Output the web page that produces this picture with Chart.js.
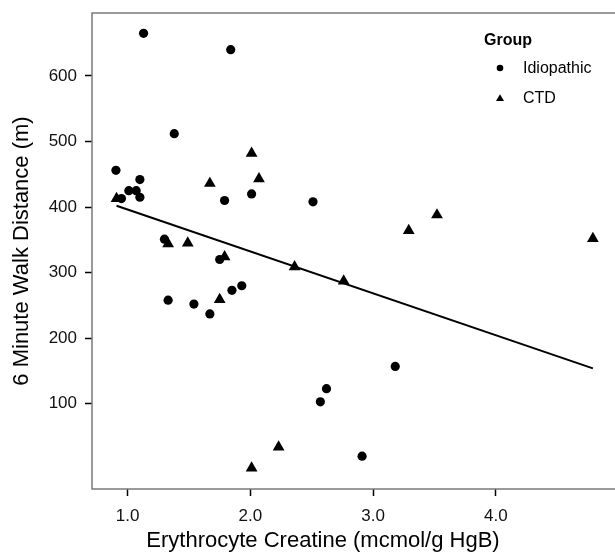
<!DOCTYPE html>
<html>
<head>
<meta charset="utf-8">
<title>6 Minute Walk Distance vs Erythrocyte Creatine</title>
<script src="https://cdn.jsdelivr.net/npm/chart.js@4.4.0/dist/chart.umd.min.js"></script>
<style>
  body { margin: 0; background: #fff; }
  canvas { display: block; }
</style>
</head>
<body>
<canvas id="walkChart" width="615" height="553"></canvas>
<script>
// Idiopathic group (circles)
const idioX = [1.13, 1.84, 1.38, 0.905, 1.10, 1.01, 1.07, 1.10, 0.95, 2.01, 1.79, 2.51, 1.30, 1.75, 1.33, 1.54, 1.67, 1.85, 1.93, 2.62, 2.57, 3.18, 2.91]
const idioY = [665, 640, 512, 456, 442, 425, 425, 415, 413, 420, 410, 408, 351, 320, 258, 252, 237, 273, 280, 123, 103, 157, 20]

// CTD group (triangles)
const ctdX = [2.01, 2.07, 1.67, 0.91, 1.33, 1.49, 1.79, 2.36, 2.76, 1.75, 2.23, 2.01, 3.52, 3.29, 4.79]
const ctdY = [482, 443, 436, 413, 344, 345, 324, 309, 287, 259, 34, 2, 388, 364, 352]

// fitted line, read at both ends
const fitX = [0.91, 4.79]
const fitY = [402, 154]

const xTicks = [1, 2, 3, 4]
const yTicks = [100, 200, 300, 400, 500, 600]
const groupNames = ["Idiopathic", "CTD"]
const legendTitle = "Group"
const xTitle = "Erythrocyte Creatine (mcmol/g HgB)"
const yTitle = "6 Minute Walk Distance (m)"

const family = "'Liberation Sans', Arial, Helvetica, sans-serif"
const toPoints = (xs, ys) => xs.map((x, i) => ({ x: x, y: ys[i] }))

// panel frame (right side is cut off by the picture edge), x title and the "Group" legend
const extras = {
    id: "extras",
    beforeDatasetsDraw(chart) {
        const { ctx, chartArea: a } = chart
        ctx.save()
        ctx.strokeStyle = "#7a7a7a"
        ctx.lineWidth = 1.5
        ctx.beginPath()
        ctx.moveTo(a.right + 2, a.top)
        ctx.lineTo(a.left, a.top)
        ctx.lineTo(a.left, a.bottom)
        ctx.lineTo(a.right + 2, a.bottom)
        ctx.stroke()
        ctx.restore()
    },
    afterDraw(chart) {
        const { ctx, chartArea: a } = chart
        ctx.save()
        ctx.fillStyle = "#000"
        ctx.font = "22px " + family
        ctx.textAlign = "center"
        ctx.textBaseline = "alphabetic"
        ctx.fillText(xTitle, a.left + 231, chart.height - 6)

        const lx = a.right - 131
        ctx.textAlign = "left"
        ctx.font = "bold 16px " + family
        ctx.fillText(legendTitle, lx, a.top + 32)
        ctx.font = "16px " + family
        ctx.textBaseline = "middle"
        groupNames.forEach((name, i) => {
            const cy = a.top + 55 + i * 30
            const cx = lx + 16
            ctx.beginPath()
            if (i === 0) {
                ctx.arc(cx, cy, 3.3, 0, Math.PI * 2)
            } else {
                ctx.moveTo(cx, cy - 3.8)
                ctx.lineTo(cx - 4, cy + 3)
                ctx.lineTo(cx + 4, cy + 3)
                ctx.closePath()
            }
            ctx.fill()
            ctx.fillText(name, lx + 39, cy + 1)
        })
        ctx.restore()
    }
}

new Chart(document.getElementById("walkChart"), {
    type: "scatter",
    data: {
        datasets: [
            {
                label: groupNames[0],
                data: toPoints(idioX, idioY),
                pointStyle: "circle",
                pointRadius: 4.6,
                backgroundColor: "#000",
                borderWidth: 0,
                order: 1,
            },
            {
                label: groupNames[1],
                data: toPoints(ctdX, ctdY),
                pointStyle: "triangle",
                pointRadius: 6.8,
                backgroundColor: "#000",
                borderWidth: 0,
                order: 1,
            },
            {
                type: "line",
                label: "fit",
                data: toPoints(fitX, fitY),
                borderColor: "#000",
                borderWidth: 2,
                pointRadius: 0,
                fill: false,
                order: 2,
            },
        ],
    },
    options: {
        responsive: false,
        animation: false,
        layout: { autoPadding: false, padding: { top: 13, right: 0, left: 0, bottom: 0 } },
        plugins: {
            legend: { display: false },
            tooltip: { enabled: false },
        },
        scales: {
            x: {
                type: "linear",
                min: 0.71,
                max: 4.97,
                afterBuildTicks: s => { s.ticks = xTicks.map(v => ({ value: v })) },
                afterFit: s => {
                    s.height = 64
                    s.paddingLeft = 0
                    s.paddingRight = 0
                },
                ticks: {
                    callback: v => v.toFixed(1),
                    font: { family: family, size: 17 },
                    color: "#111",
                    padding: 10,
                    maxRotation: 0,
                },
                grid: { drawOnChartArea: false, drawTicks: true, tickLength: 7, color: "#000", tickWidth: 1.5 },
                border: { display: false },
            },
            y: {
                type: "linear",
                min: -30,
                max: 696,
                afterBuildTicks: s => { s.ticks = yTicks.map(v => ({ value: v })) },
                afterFit: s => {
                    s.width = 92
                    s.paddingTop = 0
                    s.paddingBottom = 0
                },
                ticks: {
                    font: { family: family, size: 17 },
                    color: "#111",
                    padding: 8,
                },
                grid: { drawOnChartArea: false, drawTicks: true, tickLength: 7, color: "#000", tickWidth: 1.5 },
                border: { display: false },
                title: {
                    display: true,
                    text: yTitle,
                    color: "#000",
                    font: { family: family, size: 22 },
                    padding: { top: 9, bottom: 0 },
                },
            },
        },
    },
    plugins: [extras],
})
</script>
</body>
</html>
